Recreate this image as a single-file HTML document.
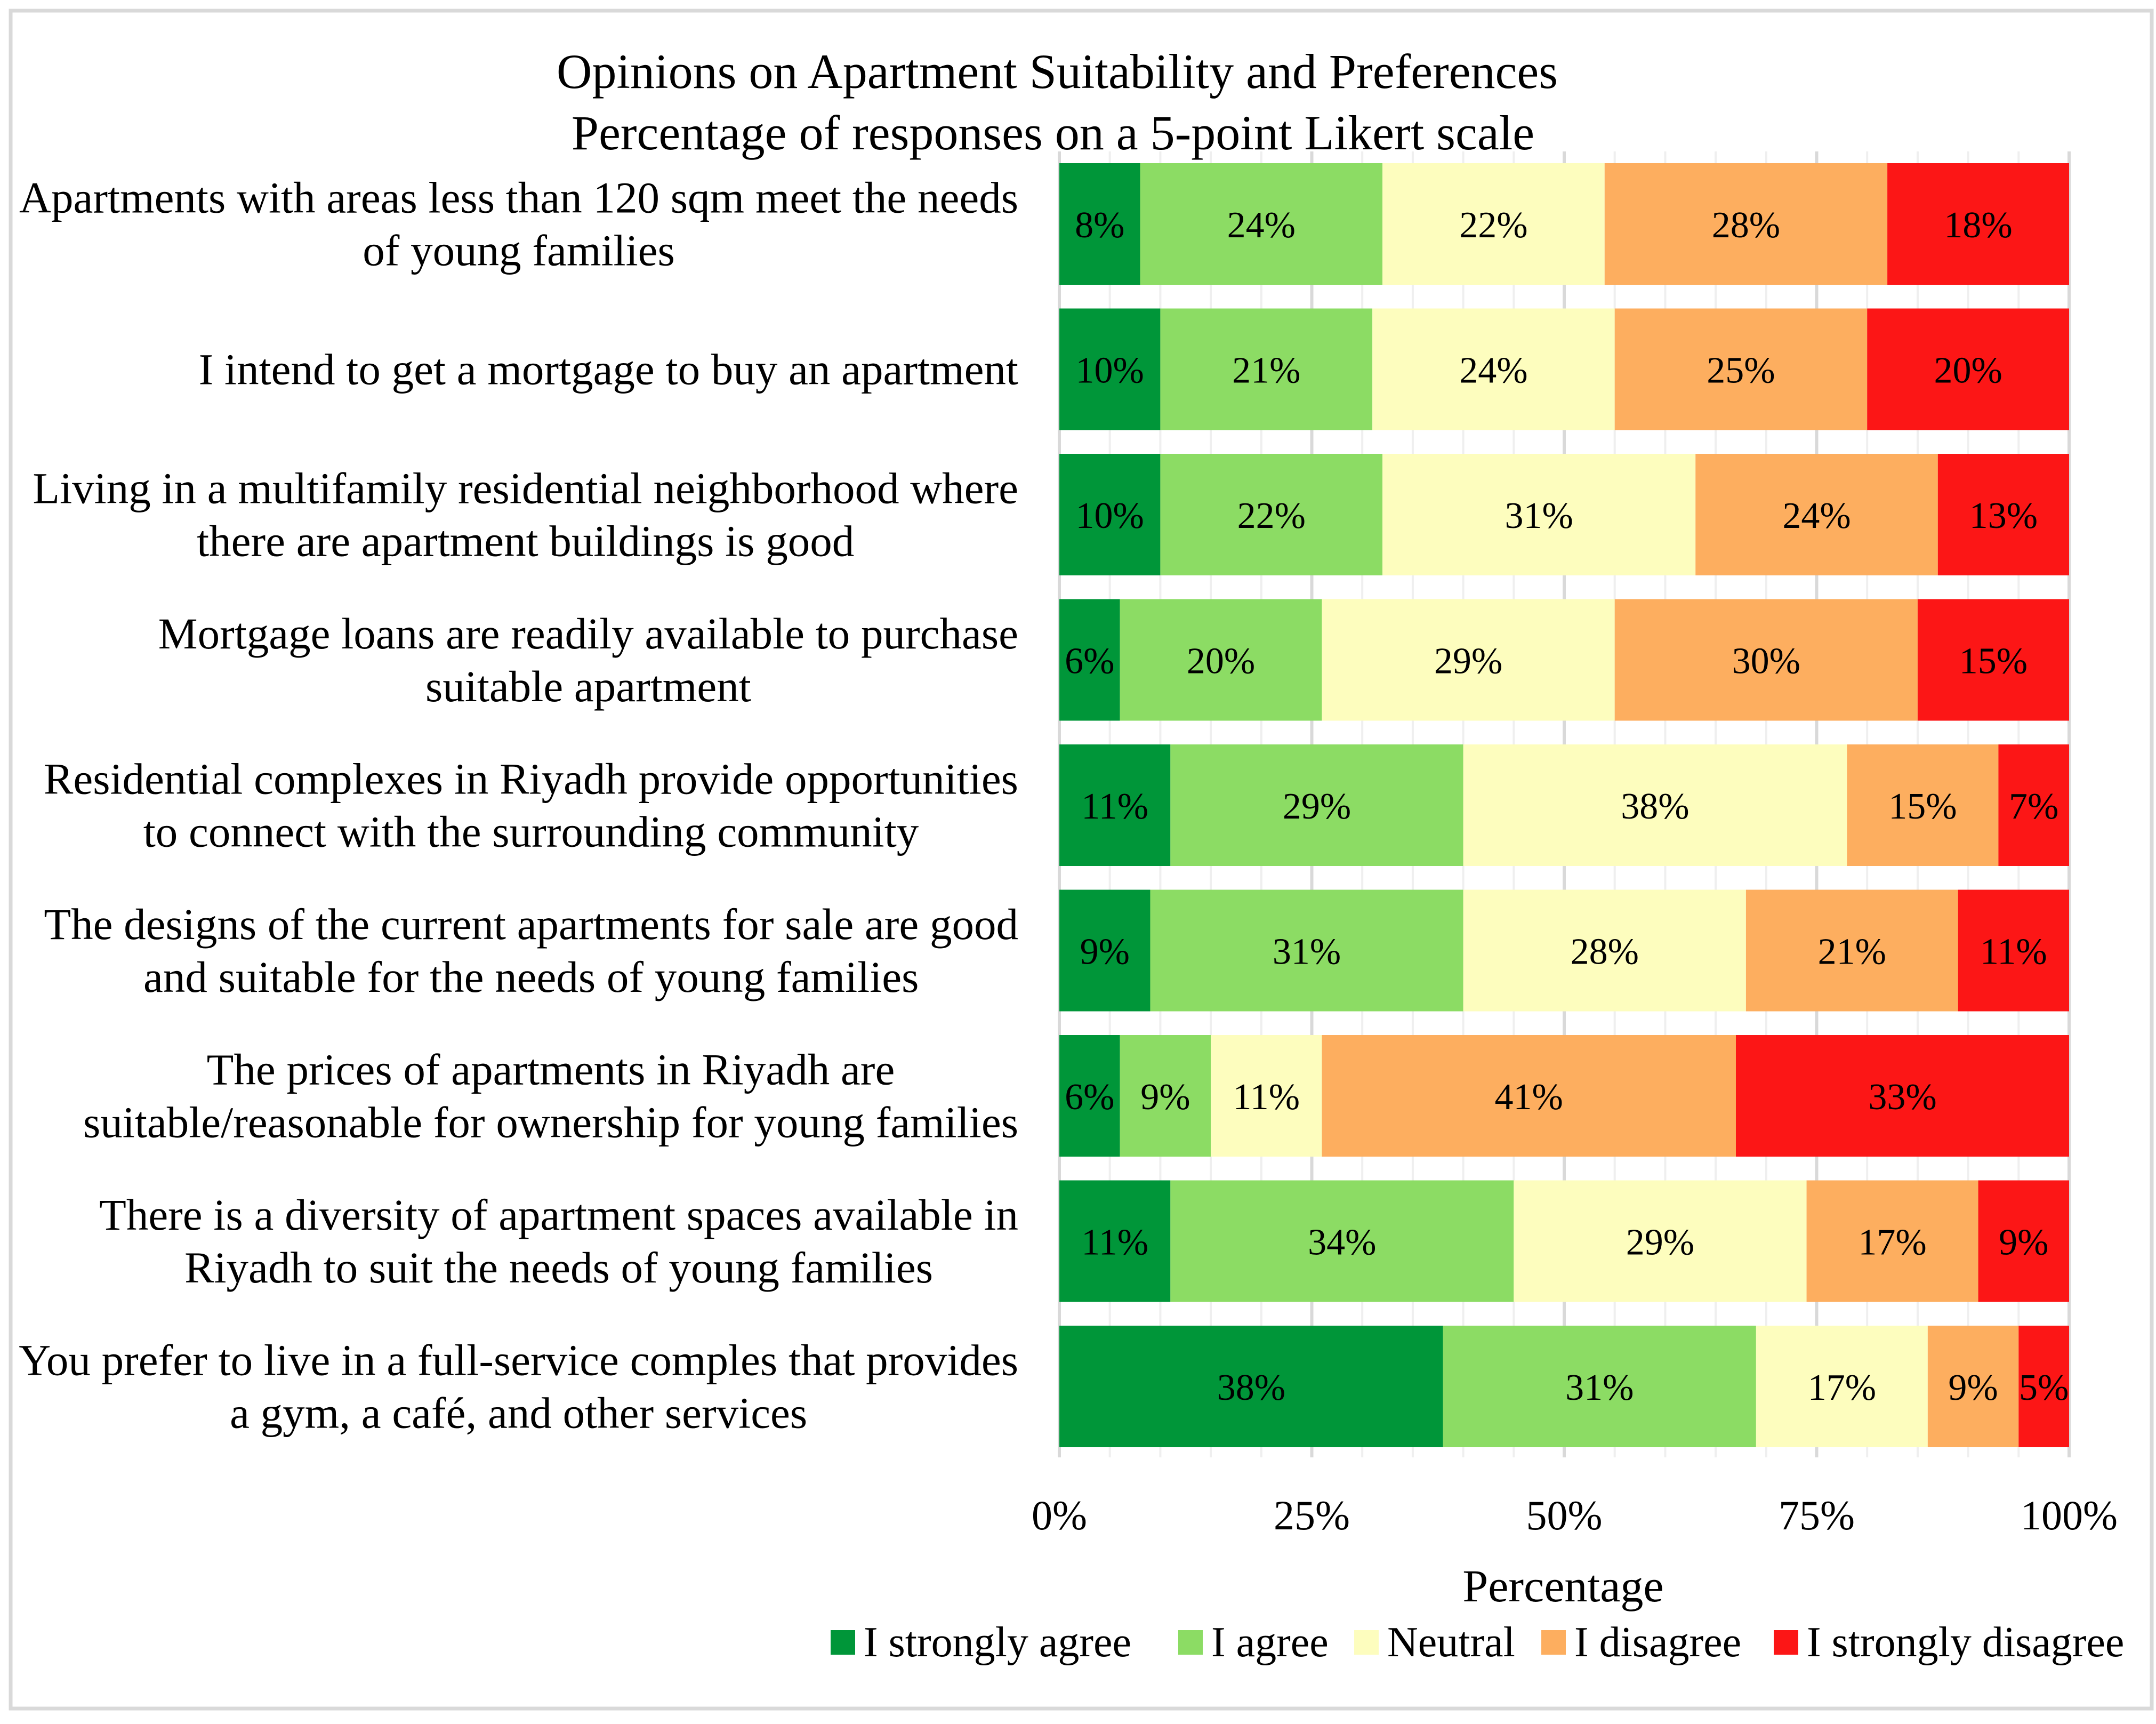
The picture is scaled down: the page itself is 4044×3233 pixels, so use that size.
<!DOCTYPE html>
<html><head><meta charset="utf-8"><style>
html,body{margin:0;padding:0;background:#fff}
svg{display:block;font-family:"Liberation Serif",serif}
</style></head><body>
<svg id="chart" width="4044" height="3233" viewBox="0 0 4044 3233" xmlns="http://www.w3.org/2000/svg">
<rect x="20" y="20" width="4016" height="3184" fill="#fff" stroke="#d9d9d9" stroke-width="7"/>
<text x="1983" y="165" font-size="92" text-anchor="middle">Opinions on Apartment Suitability and Preferences</text>
<text x="1975" y="280" font-size="92" text-anchor="middle">Percentage of responses on a 5-point Likert scale</text>
<g id="grid"></g><g id="bars"></g><g id="cats"></g><g id="ticks"></g>
<text x="2932" y="3003" font-size="86" text-anchor="middle">Percentage</text>
<g id="legend"></g>
</svg>
<script>
const categories=[
["Apartments with areas less than 120 sqm meet the needs","of young families"],
["I intend to get a mortgage to buy an apartment"],
["Living in a multifamily residential neighborhood where","there are apartment buildings is good"],
["Mortgage loans are readily available to purchase","suitable apartment"],
["Residential complexes in Riyadh provide opportunities","to connect with the surrounding community"],
["The designs of the current apartments for sale are good","and suitable for the needs of young families"],
["The prices of apartments in Riyadh are","suitable/reasonable for ownership for young families"],
["There is a diversity of apartment spaces available in","Riyadh to suit the needs of young families"],
["You prefer to live in a full-service comples that provides","a gym, a café, and other services"]];
const strongAgree=[8,10,10,6,11,9,6,11,38];
const agree=[24,21,22,20,29,31,9,34,31];
const neutral=[22,24,31,29,38,28,11,29,17];
const disagree=[28,25,24,30,15,21,41,17,9];
const strongDisagree=[18,20,13,15,7,11,33,9,5];
const seriesNames=["I strongly agree","I agree","Neutral","I disagree","I strongly disagree"];
const tickValues=[0,25,50,75,100];
const tickLabels=["0%","25%","50%","75%","100%"];

const series=[strongAgree,agree,neutral,disagree,strongDisagree];
const colors=["#009639","#8cdc64","#fdfdbe","#fdae5f","#fc1616"];
const NS="http://www.w3.org/2000/svg";
const X0=1987,X1=3881,Y0=306,PITCH=272.5,BH=228;
const xs=v=>X0+(X1-X0)*v/100;
const yb=i=>Y0+PITCH*i;
function mk(t,a,p){const e=document.createElementNS(NS,t);for(const k in a)e.setAttribute(k,a[k]);p.appendChild(e);return e;}
const grid=document.getElementById('grid'),bars=document.getElementById('bars'),cats=document.getElementById('cats'),ticks=document.getElementById('ticks'),legend=document.getElementById('legend');
for(let v=0;v<=100;v+=5){
 const l=mk('line',{x1:xs(v),x2:xs(v),y1:284,y2:2733,stroke:v%25===0?'#d9d9d9':'#efefef','stroke-width':v%25===0?6:4},grid);
 
 
}
categories.forEach((c,i)=>{
 let acc=0;const cy=yb(i)+BH/2;
 series.forEach((s,k)=>{
  const v=s[i];
  const r=mk('rect',{x:xs(acc),y:yb(i),width:xs(acc+v)-xs(acc),height:BH,fill:colors[k]},bars);
  
  
  const t=mk('text',{x:(xs(acc)+xs(acc+v))/2,y:cy+25,'font-size':70,'text-anchor':'middle'},bars);
  
  
  t.textContent=v+'%';
  acc+=v;
 });
 const n=c.length;
 const els=c.map((line,j)=>{
  const t=mk('text',{x:0,y:cy+28+(j-(n-1)/2)*99,'font-size':83,'text-anchor':'middle'},cats);
  
  
  t.textContent=line;
  return t;
 });
 let w=0;els.forEach(t=>{w=Math.max(w,t.getComputedTextLength());});
 els.forEach(t=>t.setAttribute('x',1910-w/2));
});
tickValues.forEach((v,i)=>{
 const t=mk('text',{x:xs(v),y:2868,'font-size':78,'text-anchor':'middle'},ticks);
 
 
 t.textContent=tickLabels[i];
});
const lx=[1558,2210,2540,2891,3327];
seriesNames.forEach((nm,k)=>{
 const r=mk('rect',{x:lx[k],y:3057,width:46,height:46,fill:colors[k]},legend);
 
 
 const t=mk('text',{x:lx[k]+62,y:3106,'font-size':80},legend);
 
 
 t.textContent=nm;
});
</script>
</body></html>
